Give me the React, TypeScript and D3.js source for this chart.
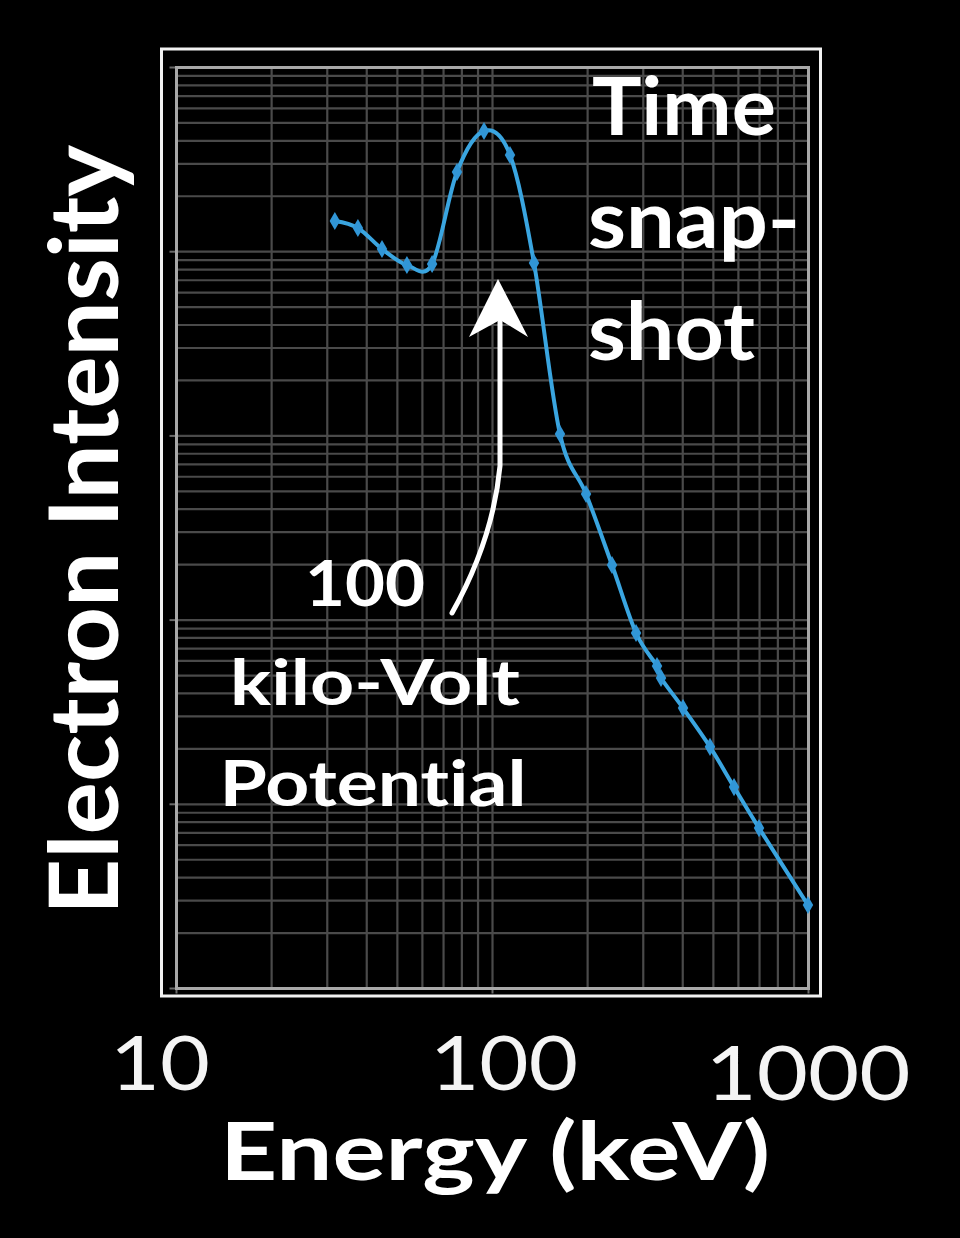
import React from "react";
import * as d3 from "d3";

const energyKeV = [31.7, 37.5, 44.7, 53.6, 64.4, 77.2, 94.0, 113.6, 135.3, 163.5, 197.7, 238.9, 284.6, 331.6, 341.4, 400.8, 487.8, 581.2, 697.3, 996];
const intensity = [14680, 13450, 10340, 8470, 8580, 27080, 45220, 33500, 8685, 1024, 484, 199, 85.1, 56.3, 48.5, 33.3, 20.5, 12.4, 7.43, 2.84];

const xTickLabels = ["10", "100", "1000"];
const xTickValues = [10, 100, 1000];
const annotationTop = ["Time", "snap-", "shot"];
const annotationArrow = ["100", "kilo-Volt", "Potential"];
const xTitle = "Energy (keV)";
const yTitle = "Electron Intensity";

const W = 960;
const H = 1238;
const plot = { left: 176.5, right: 808.5, top: 67.5, bottom: 988.5 };
const FONT = "Lato, 'Open Sans', 'DejaVu Sans', sans-serif";
const LINE = "#3aa5e0";
const noLig = { fontVariantLigatures: "none", fontFeatureSettings: "'liga' 0, 'clig' 0" } as React.CSSProperties;

export default function App() {
  const x = d3.scaleLog().domain([10, 1000]).range([plot.left, plot.right]);
  const y = d3.scaleLog().domain([1, 1e5]).range([plot.bottom, plot.top]);

  const xGrid: number[] = [];
  for (let d = 10; d < 1000; d *= 10) for (let k = 1; k <= 9; k++) xGrid.push(d * k);
  xGrid.push(1000);
  const yGrid: number[] = [];
  for (let d = 1; d < 1e5; d *= 10) for (let k = 1; k <= 9; k++) yGrid.push(d * k);
  yGrid.push(1e5);
  const yMajor = [1, 10, 100, 1000, 10000, 100000];

  const pts = energyKeV.map((e, i) => [e, intensity[i]] as [number, number]);
  const line = d3
    .line<[number, number]>()
    .x((d) => x(d[0]))
    .y((d) => y(d[1]))
    .curve(d3.curveCardinal.tension(0));
  const diamond = d3.symbol().type(d3.symbolDiamond).size(95)();

  return (
    <svg
      width={W}
      height={H}
      viewBox={`0 0 ${W} ${H}`}
      style={{ position: "absolute", left: 0, top: 0, display: "block", background: "#000" }}
    >
      <rect x={0} y={0} width={W} height={H} fill="#000" />
      {/* outer white border */}
      <rect x={161.5} y={49} width={659} height={947} fill="none" stroke="#f2f2f2" strokeWidth={3} />
      {/* grid */}
      <g stroke="#4a4a4a" strokeWidth={2.2}>
        {xGrid.map((v, i) => (
          <line key={"gx" + i} x1={x(v)} x2={x(v)} y1={plot.top} y2={plot.bottom} />
        ))}
        {yGrid.map((v, i) => (
          <line key={"gy" + i} x1={plot.left} x2={plot.right} y1={y(v)} y2={y(v)} />
        ))}
      </g>
      <g stroke="#6a6a6a" strokeWidth={2}>
        {yMajor.map((v, i) => (
          <line key={"ty" + i} x1={plot.left - 7} x2={plot.left} y1={y(v)} y2={y(v)} />
        ))}
        {xTickValues.map((v, i) => (
          <line key={"tx" + i} x1={x(v)} x2={x(v)} y1={plot.bottom} y2={plot.bottom + 5} />
        ))}
      </g>
      {/* inner frame */}
      <rect
        x={plot.left}
        y={plot.top}
        width={plot.right - plot.left}
        height={plot.bottom - plot.top}
        fill="none"
        stroke="#a8a8a8"
        strokeWidth={3}
      />
      {/* data line */}
      <path d={line(pts) || ""} fill="none" stroke={LINE} strokeWidth={4} strokeLinejoin="round" />
      {pts.map((p, i) => (
        <path key={"m" + i} d={diamond || ""} transform={`translate(${x(p[0])},${y(p[1])})`} fill="#3196d6" />
      ))}

      {/* Time snap-shot */}
      <g fill="#fff" fontFamily={FONT} fontWeight={700} fontSize={80} style={noLig}>
        <text x={592} y={135} textLength={184} lengthAdjust="spacingAndGlyphs">{annotationTop[0]}</text>
        <text x={588} y={248} textLength={212} lengthAdjust="spacingAndGlyphs">{annotationTop[1]}</text>
        <text x={588} y={360} textLength={167} lengthAdjust="spacingAndGlyphs">{annotationTop[2]}</text>
      </g>

      {/* arrow */}
      <path d="M452,613 Q493,540 500,466 L500,322" fill="none" stroke="#fff" strokeWidth={5} strokeLinecap="round" />
      <path d="M498,279 L528,337 L500,320 L469,337 Z" fill="#fff" />

      <g fill="#fff" fontFamily={FONT} fontWeight={700} fontSize={64} textAnchor="middle" style={noLig}>
        <text x={365} y={606} textLength={120} lengthAdjust="spacingAndGlyphs">{annotationArrow[0]}</text>
        <text x={375} y={705} textLength={290} lengthAdjust="spacingAndGlyphs">{annotationArrow[1]}</text>
        <text x={373} y={806} textLength={307} lengthAdjust="spacingAndGlyphs">{annotationArrow[2]}</text>
      </g>

      {/* x tick labels */}
      <g fill="#f4f4f4" fontFamily={FONT} fontWeight={400} fontSize={76} textAnchor="middle">
        <text x={160} y={1090} textLength={100} lengthAdjust="spacingAndGlyphs">{xTickLabels[0]}</text>
        <text x={504} y={1090} textLength={148} lengthAdjust="spacingAndGlyphs">{xTickLabels[1]}</text>
        <text x={808} y={1100} textLength={205} lengthAdjust="spacingAndGlyphs">{xTickLabels[2]}</text>
      </g>

      {/* axis titles */}
      <text
        x={495}
        y={1180}
        fill="#fff"
        fontFamily={FONT}
        fontWeight={700}
        fontSize={80}
        textAnchor="middle"
        textLength={550}
        lengthAdjust="spacingAndGlyphs"
        style={noLig}
      >
        {xTitle}
      </text>
      <text
        transform="translate(118,530) rotate(-90)"
        fill="#fff"
        fontFamily={FONT}
        fontWeight={700}
        fontSize={96}
        textAnchor="middle"
        textLength={770}
        lengthAdjust="spacingAndGlyphs"
        style={noLig}
      >
        {yTitle}
      </text>
    </svg>
  );
}
